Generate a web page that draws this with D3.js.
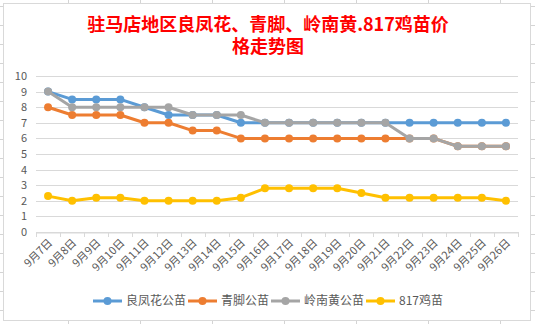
<!DOCTYPE html>
<html><head><meta charset="utf-8">
<script src="https://cdn.jsdelivr.net/npm/d3@7"></script>
<style>html,body{margin:0;padding:0;background:#fff;}svg{display:block;}</style>
</head><body>
<svg id="c" width="535" height="324"></svg>
<script>
const categories = ["9月7日","9月8日","9月9日","9月10日","9月11日","9月12日","9月13日","9月14日","9月15日","9月16日","9月17日","9月18日","9月19日","9月20日","9月21日","9月22日","9月23日","9月24日","9月25日","9月26日"];
const seriesNames = ["良凤花公苗","青脚公苗","岭南黄公苗","817鸡苗"];
const liangfenghua = [9,8.5,8.5,8.5,8,7.5,7.5,7.5,7,7,7,7,7,7,7,7,7,7,7,7];
const qingjiao = [8,7.5,7.5,7.5,7,7,6.5,6.5,6,6,6,6,6,6,6,6,6,5.5,5.5,5.5];
const lingnanhuang = [9,8,8,8,8,8,7.5,7.5,7.5,7,7,7,7,7,7,6,6,5.5,5.5,5.5];
const ji817 = [2.3,2.0,2.2,2.2,2.0,2.0,2.0,2.0,2.2,2.8,2.8,2.8,2.8,2.5,2.2,2.2,2.2,2.2,2.2,2.0];
const yTicks = [0,1,2,3,4,5,6,7,8,9,10];
const titleLines = ["驻马店地区良凤花、青脚、岭南黄.817鸡苗价","格走势图"];

const colors = ["#5B9BD5","#ED7D31","#A5A5A5","#FFC000"];
const seriesData = [liangfenghua, qingjiao, lingnanhuang, ji817];
const font = "'Noto Sans CJK SC','Microsoft YaHei',sans-serif";

const svg = d3.select("#c");
// spreadsheet grid behind
const bg = svg.append("g").attr("stroke","#d4d4d4").attr("stroke-width",1);
d3.range(6, 324, 19).forEach(yy=>{
  bg.append("line").attr("x1",0).attr("x2",3).attr("y1",yy+0.5).attr("y2",yy+0.5);
  bg.append("line").attr("x1",531).attr("x2",535).attr("y1",yy+0.5).attr("y2",yy+0.5);
});
d3.range(68, 535, 72).forEach(xx=>{
  bg.append("line").attr("x1",xx+0.5).attr("x2",xx+0.5).attr("y1",0).attr("y2",3);
  bg.append("line").attr("x1",xx+0.5).attr("x2",xx+0.5).attr("y1",321).attr("y2",324);
});
// chart box
svg.append("rect").attr("x",3.5).attr("y",3.5).attr("width",527).attr("height",317)
  .attr("fill","#fff").attr("stroke","#d9d9d9").attr("stroke-width",1);

// title (two separate lines)
titleLines.forEach((l,i)=>svg.append("text").attr("x",268).attr("y",31+i*22)
  .attr("text-anchor","middle").attr("font-family",font).attr("font-weight","bold")
  .attr("font-size",18).attr("fill","#FF0000").text(l));

const pLeft=36, pRight=518, pTop=76, pBottom=232;
const x = d3.scaleBand().domain(categories).range([pLeft,pRight]);
const y = d3.scaleLinear().domain([0,10]).range([pBottom,pTop]);

// gridlines
svg.append("g").selectAll("line").data(yTicks).join("line")
  .attr("x1",pLeft).attr("x2",pRight)
  .attr("y1",d=>Math.round(y(d))+0.5).attr("y2",d=>Math.round(y(d))+0.5)
  .attr("stroke","#d9d9d9").attr("stroke-width",1);

// y axis labels
const yAxis = svg.append("g").attr("transform",`translate(${pLeft},0)`)
  .call(d3.axisLeft(y).tickValues(yTicks).tickSize(0).tickPadding(9).tickFormat(d3.format("d")));
yAxis.select(".domain").remove();
yAxis.selectAll("text").attr("font-family",font).attr("font-size",11).attr("fill","#595959");

// x axis
const xAxis = svg.append("g").attr("transform",`translate(0,${Math.round(pBottom)+0.5})`)
  .call(d3.axisBottom(x).tickSize(0).tickPadding(0));
xAxis.select(".domain").attr("stroke","#d9d9d9");
xAxis.selectAll(".tick text")
  .attr("font-family",font).attr("font-size",11).attr("fill","#595959")
  .attr("text-anchor","end").attr("dy",0)
  .attr("transform","translate(5,11) rotate(-45)");
// category boundary ticks
const bounds = categories.map(c=>x(c)).concat([pRight]);
svg.append("g").selectAll("line").data(bounds).join("line")
  .attr("x1",d=>Math.round(d)+0.5).attr("x2",d=>Math.round(d)+0.5)
  .attr("y1",pBottom).attr("y2",pBottom+5)
  .attr("stroke","#d9d9d9");

// series
const line = d3.line().x((d,i)=>x(categories[i])+x.bandwidth()/2).y(d=>y(d));
seriesData.forEach((data,si)=>{
  const g = svg.append("g");
  g.append("path").datum(data).attr("d",line).attr("fill","none")
    .attr("stroke",colors[si]).attr("stroke-width",3).attr("stroke-linejoin","round").attr("stroke-linecap","round");
  g.selectAll("circle").data(data).join("circle")
    .attr("cx",(d,i)=>x(categories[i])+x.bandwidth()/2).attr("cy",d=>y(d))
    .attr("r",4).attr("fill",colors[si]);
});

// legend
const legX = [93,188,271,366];
const leg = svg.append("g");
seriesNames.forEach((n,i)=>{
  const g = leg.append("g").attr("transform",`translate(${legX[i]},301)`);
  g.append("line").attr("x1",0).attr("x2",29).attr("y1",0).attr("y2",0)
    .attr("stroke",colors[i]).attr("stroke-width",3);
  g.append("circle").attr("cx",14.5).attr("cy",0).attr("r",4).attr("fill",colors[i]);
  g.append("text").attr("x",33).attr("y",0).attr("dy","0.36em")
    .attr("font-family",font).attr("font-size",12).attr("fill","#595959").text(n);
});
</script>
</body></html>
